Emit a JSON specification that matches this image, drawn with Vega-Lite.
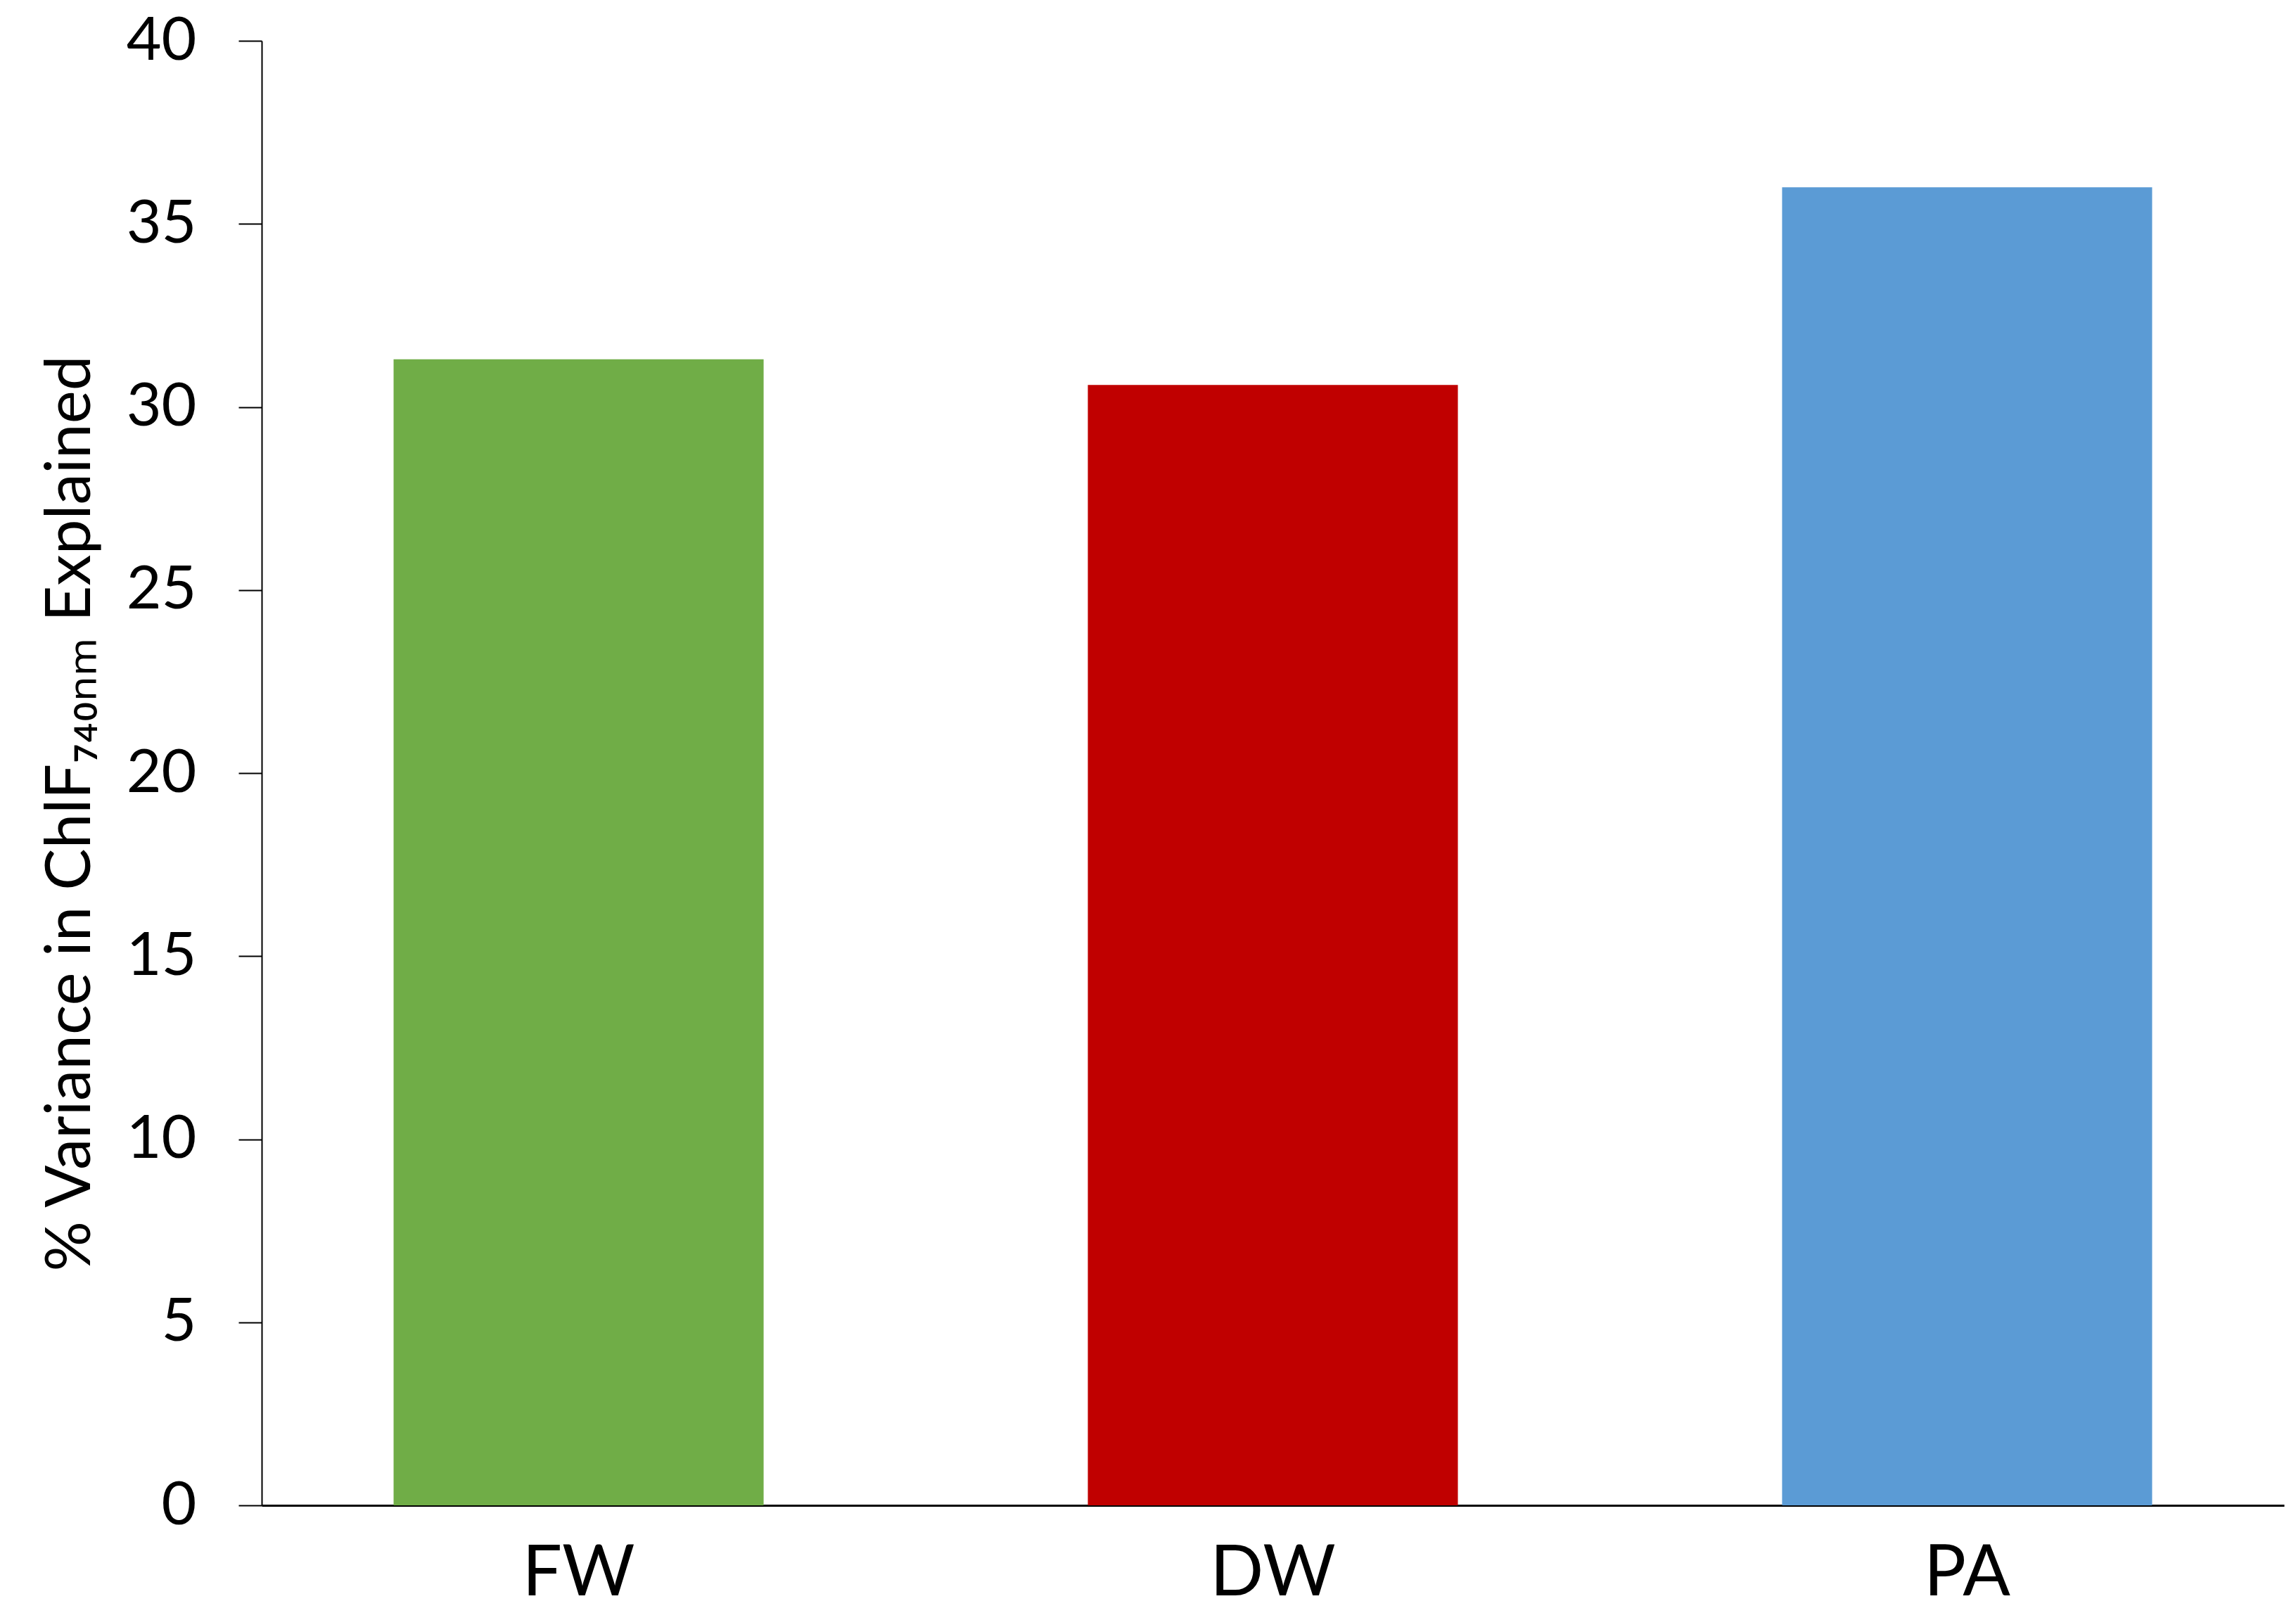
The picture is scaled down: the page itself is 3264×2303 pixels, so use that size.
{
  "$schema": "https://vega.github.io/schema/vega-lite/v6.json",
  "autosize": "none",
  "width": 2875,
  "height": 2082,
  "padding": {"left": 372, "top": 58, "right": 17, "bottom": 163},
  "background": "white",
  "config": {
    "view": {"stroke": null},
    "font": "Lato"
  },
  "data": {
    "values": [
      {"group": "FW", "value": 31.3},
      {"group": "DW", "value": 30.6},
      {"group": "PA", "value": 36.0}
    ]
  },
  "mark": {"type": "bar"},
  "encoding": {
    "x": {
      "field": "group",
      "type": "nominal",
      "sort": ["FW", "DW", "PA"],
      "scale": {"paddingInner": 0.467, "paddingOuter": 0.19},
      "axis": {
        "title": null,
        "labelAngle": 0,
        "labelFont": "Lato",
        "labelFontSize": 100,
        "labelColor": "black",
        "labelPadding": 48,
        "ticks": false,
        "domainColor": "black",
        "domainWidth": 3
      }
    },
    "y": {
      "field": "value",
      "type": "quantitative",
      "scale": {"domain": [0, 40], "nice": false},
      "axis": {
        "title": "% Variance in ChlF₇₄₀ₙₘ Explained",
        "titleFont": "Lato",
        "titleFontSize": 89,
        "titleFontWeight": "normal",
        "titleColor": "black",
        "titleX": -226,
        "titleY": 1098,
        "titleAlign": "center",
        "values": [0, 5, 10, 15, 20, 25, 30, 35, 40],
        "grid": false,
        "labelFont": "Lato",
        "labelFontSize": 86,
        "labelColor": "black",
        "labelPadding": 60,
        "tickSize": 33,
        "tickWidth": 2,
        "tickColor": "black",
        "domainColor": "black",
        "domainWidth": 2
      }
    },
    "color": {
      "field": "group",
      "type": "nominal",
      "scale": {"domain": ["FW", "DW", "PA"], "range": ["#70AD47", "#C00000", "#5B9BD5"]},
      "legend": null
    }
  }
}
